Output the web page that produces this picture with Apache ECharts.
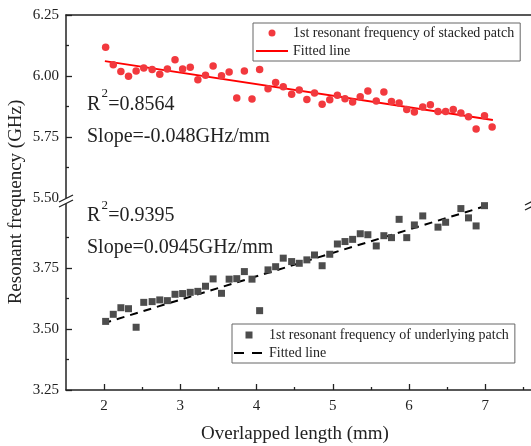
<!DOCTYPE html>
<html><head><meta charset="utf-8">
<script src="https://cdn.jsdelivr.net/npm/echarts@6/dist/echarts.min.js"></script>
<style>html,body{margin:0;padding:0;background:#fff}#c{width:531px;height:446px}</style>
</head><body><div id="c"></div>
<script>
// ---- data ----
const xStacked = [2.02,2.12,2.22,2.32,2.42,2.52,2.63,2.73,2.83,2.93,3.03,3.13,3.23,3.33,3.43,3.54,3.64,3.74,3.84,3.94,4.04,4.15,4.25,4.35,4.46,4.56,4.66,4.76,4.86,4.96,5.06,5.16,5.26,5.36,5.46,5.57,5.67,5.77,5.87,5.97,6.07,6.18,6.28,6.38,6.48,6.58,6.68,6.78,6.88,6.99,7.09];
const yStacked = [6.118,6.046,6.018,5.999,6.020,6.033,6.027,6.007,6.029,6.067,6.029,6.036,5.985,6.003,6.041,6.001,6.016,5.910,6.020,5.906,6.027,5.948,5.973,5.956,5.925,5.943,5.904,5.930,5.884,5.903,5.921,5.907,5.893,5.915,5.939,5.898,5.934,5.895,5.889,5.863,5.852,5.873,5.882,5.854,5.855,5.863,5.848,5.833,5.783,5.837,5.791];
const xUnder = [2.02,2.12,2.22,2.32,2.42,2.52,2.63,2.73,2.83,2.93,3.03,3.13,3.23,3.33,3.43,3.54,3.64,3.74,3.84,3.94,4.04,4.15,4.25,4.35,4.46,4.56,4.66,4.76,4.86,4.96,5.06,5.16,5.26,5.36,5.46,5.57,5.67,5.77,5.87,5.97,6.07,6.18,6.38,6.48,6.68,6.78,6.88,6.99];
const yUnder = [3.531,3.560,3.587,3.583,3.507,3.609,3.612,3.619,3.616,3.642,3.645,3.650,3.654,3.675,3.705,3.646,3.704,3.706,3.735,3.704,3.575,3.742,3.755,3.790,3.776,3.769,3.783,3.803,3.759,3.806,3.848,3.858,3.867,3.890,3.886,3.840,3.882,3.874,3.949,3.874,3.926,3.963,3.917,3.937,3.993,3.955,3.922,4.005];
const fitStackedX = [2.01, 7.10];
const fitStackedY = [6.061, 5.820];
const fitUnderX = [1.99, 7.02];
const fitUnderY = [3.523, 4.005];
const xTickLabels = [2,3,4,5,6,7];
const xMinorTicks = [2.5,3.5,4.5,5.5,6.5,7.5];
const yBotTicks = [3.25,3.5,3.75];
const yBotMinor = [3.375,3.625,3.875];
const nameStacked = '1st resonant frequency of stacked patch';
const nameUnder = '1st resonant frequency of underlying patch';
const nameFit1 = 'Fitted line';
const nameFit2 = 'Fitted line ';
const r2Top = '=0.8564', slopeTop = 'Slope=-0.048GHz/mm';
const r2Bot = '=0.9395', slopeBot = 'Slope=0.0945GHz/mm';
const xTitle = 'Overlapped length (mm)';
const yTitle = 'Resonant frequency (GHz)';

// ---- chart ----
const FONT = "'Liberation Serif','Times New Roman',serif";
const TXT = '#222';
const AX = '#222';
const zip = (a, b) => a.map((v, i) => [v, b[i]]);
const chart = echarts.init(document.getElementById('c'), null, {renderer: 'canvas'});
const XMIN = 1.5, XMAX = 7.6;
const lineAx = {show: true, lineStyle: {color: AX, width: 1.5}};
const noLbl = {show: false};
const noMark = {color: 'rgba(0,0,0,0)', borderWidth: 0, opacity: 0};
const SQUARE = 'path://M0,0L10,0L10,10L0,10Z';
const t = (text, x, y, size) => ({type: 'text', x: x, y: y, silent: true,
  style: {text: text, fill: TXT, font: size + 'px ' + FONT, verticalAlign: 'middle', align: 'left'}});
chart.setOption({
  animation: false,
  backgroundColor: '#fff',
  grid: [
    {left: 66, top: 15, width: 466, height: 183},
    {left: 66, top: 202, width: 466, height: 188}
  ],
  xAxis: [
    {gridIndex: 0, type: 'value', min: XMIN, max: XMAX, show: false, splitLine: {show: false}},
    {gridIndex: 0, type: 'value', min: XMIN, max: XMAX, position: 'top', axisLine: lineAx, axisTick: {show: false}, axisLabel: noLbl, splitLine: {show: false}},
    {gridIndex: 1, type: 'value', min: XMIN, max: XMAX, position: 'bottom', axisLine: lineAx,
      axisTick: {show: true, inside: true, length: 6, customValues: xTickLabels, lineStyle: {color: AX, width: 1.3}},
      axisLabel: {show: true, customValues: xTickLabels, margin: 9, color: TXT, fontSize: 15, fontFamily: FONT},
      splitLine: {show: false}},
    {gridIndex: 1, type: 'value', min: XMIN, max: XMAX, position: 'bottom', offset: 0, axisLine: {show: false},
      axisTick: {show: true, inside: true, length: 3, customValues: xMinorTicks, lineStyle: {color: AX, width: 1.3}},
      axisLabel: noLbl, splitLine: {show: false}}
  ],
  yAxis: [
    {gridIndex: 0, type: 'value', position: 'left', min: 5.5, max: 6.25, interval: 0.25, axisLine: lineAx,
      axisTick: {show: true, inside: true, length: 6, lineStyle: {color: AX, width: 1.3}},
      minorTick: {show: true, splitNumber: 2, length: 3, lineStyle: {color: AX, width: 1.3}},
      axisLabel: {color: TXT, fontSize: 15, fontFamily: FONT, margin: 7, formatter: v => v.toFixed(2)},
      splitLine: {show: false}},
    {gridIndex: 1, type: 'value', position: 'left', min: 3.25, max: 4.02, axisLine: lineAx,
      axisTick: {show: true, inside: true, length: 6, customValues: yBotTicks, lineStyle: {color: AX, width: 1.3}},
      axisLabel: {show: true, customValues: yBotTicks, color: TXT, fontSize: 15, fontFamily: FONT, margin: 7, formatter: v => Number(v).toFixed(2)},
      splitLine: {show: false}},
    {gridIndex: 1, type: 'value', position: 'left', offset: 0, min: 3.25, max: 4.02, axisLine: {show: false},
      axisTick: {show: true, inside: true, length: 3, customValues: yBotMinor, lineStyle: {color: AX, width: 1.3}},
      axisLabel: noLbl, splitLine: {show: false}}
  ],
  legend: [
    {left: 253, top: 23, orient: 'vertical', padding: [3, 6, 3, 2], itemGap: 4, itemWidth: 32, itemHeight: 7,
      borderColor: '#666', borderWidth: 1, backgroundColor: '#fff',
      textStyle: {color: TXT, fontSize: 14, fontFamily: FONT},
      data: [{name: nameStacked, icon: 'circle'}, {name: nameFit1, itemStyle: noMark}]},
    {left: 232, top: 324, orient: 'vertical', padding: [4, 6, 3, 1], itemGap: 4, itemWidth: 30, itemHeight: 7,
      borderColor: '#666', borderWidth: 1, backgroundColor: '#fff',
      textStyle: {color: TXT, fontSize: 14, fontFamily: FONT},
      data: [{name: nameUnder, icon: SQUARE}, {name: nameFit2, itemStyle: noMark, lineStyle: {type: [10, 8], width: 2}}]}
  ],
  series: [
    {name: nameFit1, type: 'line', xAxisIndex: 0, yAxisIndex: 0, data: zip(fitStackedX, fitStackedY),
      showSymbol: false, symbol: 'none', lineStyle: {color: '#ff0000', width: 2}, itemStyle: {color: '#ff0000'}, z: 2},
    {name: nameStacked, type: 'scatter', xAxisIndex: 0, yAxisIndex: 0, data: zip(xStacked, yStacked),
      symbol: 'circle', symbolSize: 7.5, itemStyle: {color: '#f2393e', opacity: 1}, z: 3},
    {name: nameFit2, type: 'line', xAxisIndex: 2, yAxisIndex: 1, data: zip(fitUnderX, fitUnderY),
      showSymbol: false, symbol: 'none', lineStyle: {color: '#000', width: 2, type: [8, 6]}, itemStyle: {color: '#000'}, z: 2},
    {name: nameUnder, type: 'scatter', xAxisIndex: 2, yAxisIndex: 1, data: zip(xUnder, yUnder),
      symbol: 'rect', symbolSize: 7, itemStyle: {color: '#4d4d4d', opacity: 1}, z: 3}
  ],
  graphic: [
    // axis break marks
    {type: 'polygon', silent: true, shape: {points: [[59, 202], [73, 195], [73, 200], [59, 207]]}, style: {fill: '#fff'}, z: 10},
    {type: 'line', silent: true, shape: {x1: 59, y1: 202, x2: 73, y2: 195}, style: {stroke: AX, lineWidth: 1.3}, z: 11},
    {type: 'line', silent: true, shape: {x1: 59, y1: 207, x2: 73, y2: 200}, style: {stroke: AX, lineWidth: 1.3}, z: 11},
    {type: 'line', silent: true, shape: {x1: 525, y1: 205, x2: 539, y2: 198}, style: {stroke: AX, lineWidth: 1.3}, z: 11},
    {type: 'line', silent: true, shape: {x1: 525, y1: 210, x2: 539, y2: 203}, style: {stroke: AX, lineWidth: 1.3}, z: 11},
    // annotations
    t('R', 87, 105, 20), t('2', 101.5, 94, 13), t(r2Top, 108.3, 105, 20),
    t(slopeTop, 87, 137, 20),
    t('R', 87, 216, 20), t('2', 101.5, 206, 13), t(r2Bot, 108.3, 216, 20),
    t(slopeBot, 87, 248, 20),
    // axis titles
    {type: 'text', x: 295, y: 434, silent: true,
      style: {text: xTitle, fill: TXT, font: '19px ' + FONT, align: 'center', verticalAlign: 'middle'}},
    {type: 'text', x: 16, y: 202, rotation: Math.PI / 2, silent: true,
      style: {text: yTitle, fill: TXT, font: '19px ' + FONT, align: 'center', verticalAlign: 'middle'}}
  ]
});
</script>
</body></html>
